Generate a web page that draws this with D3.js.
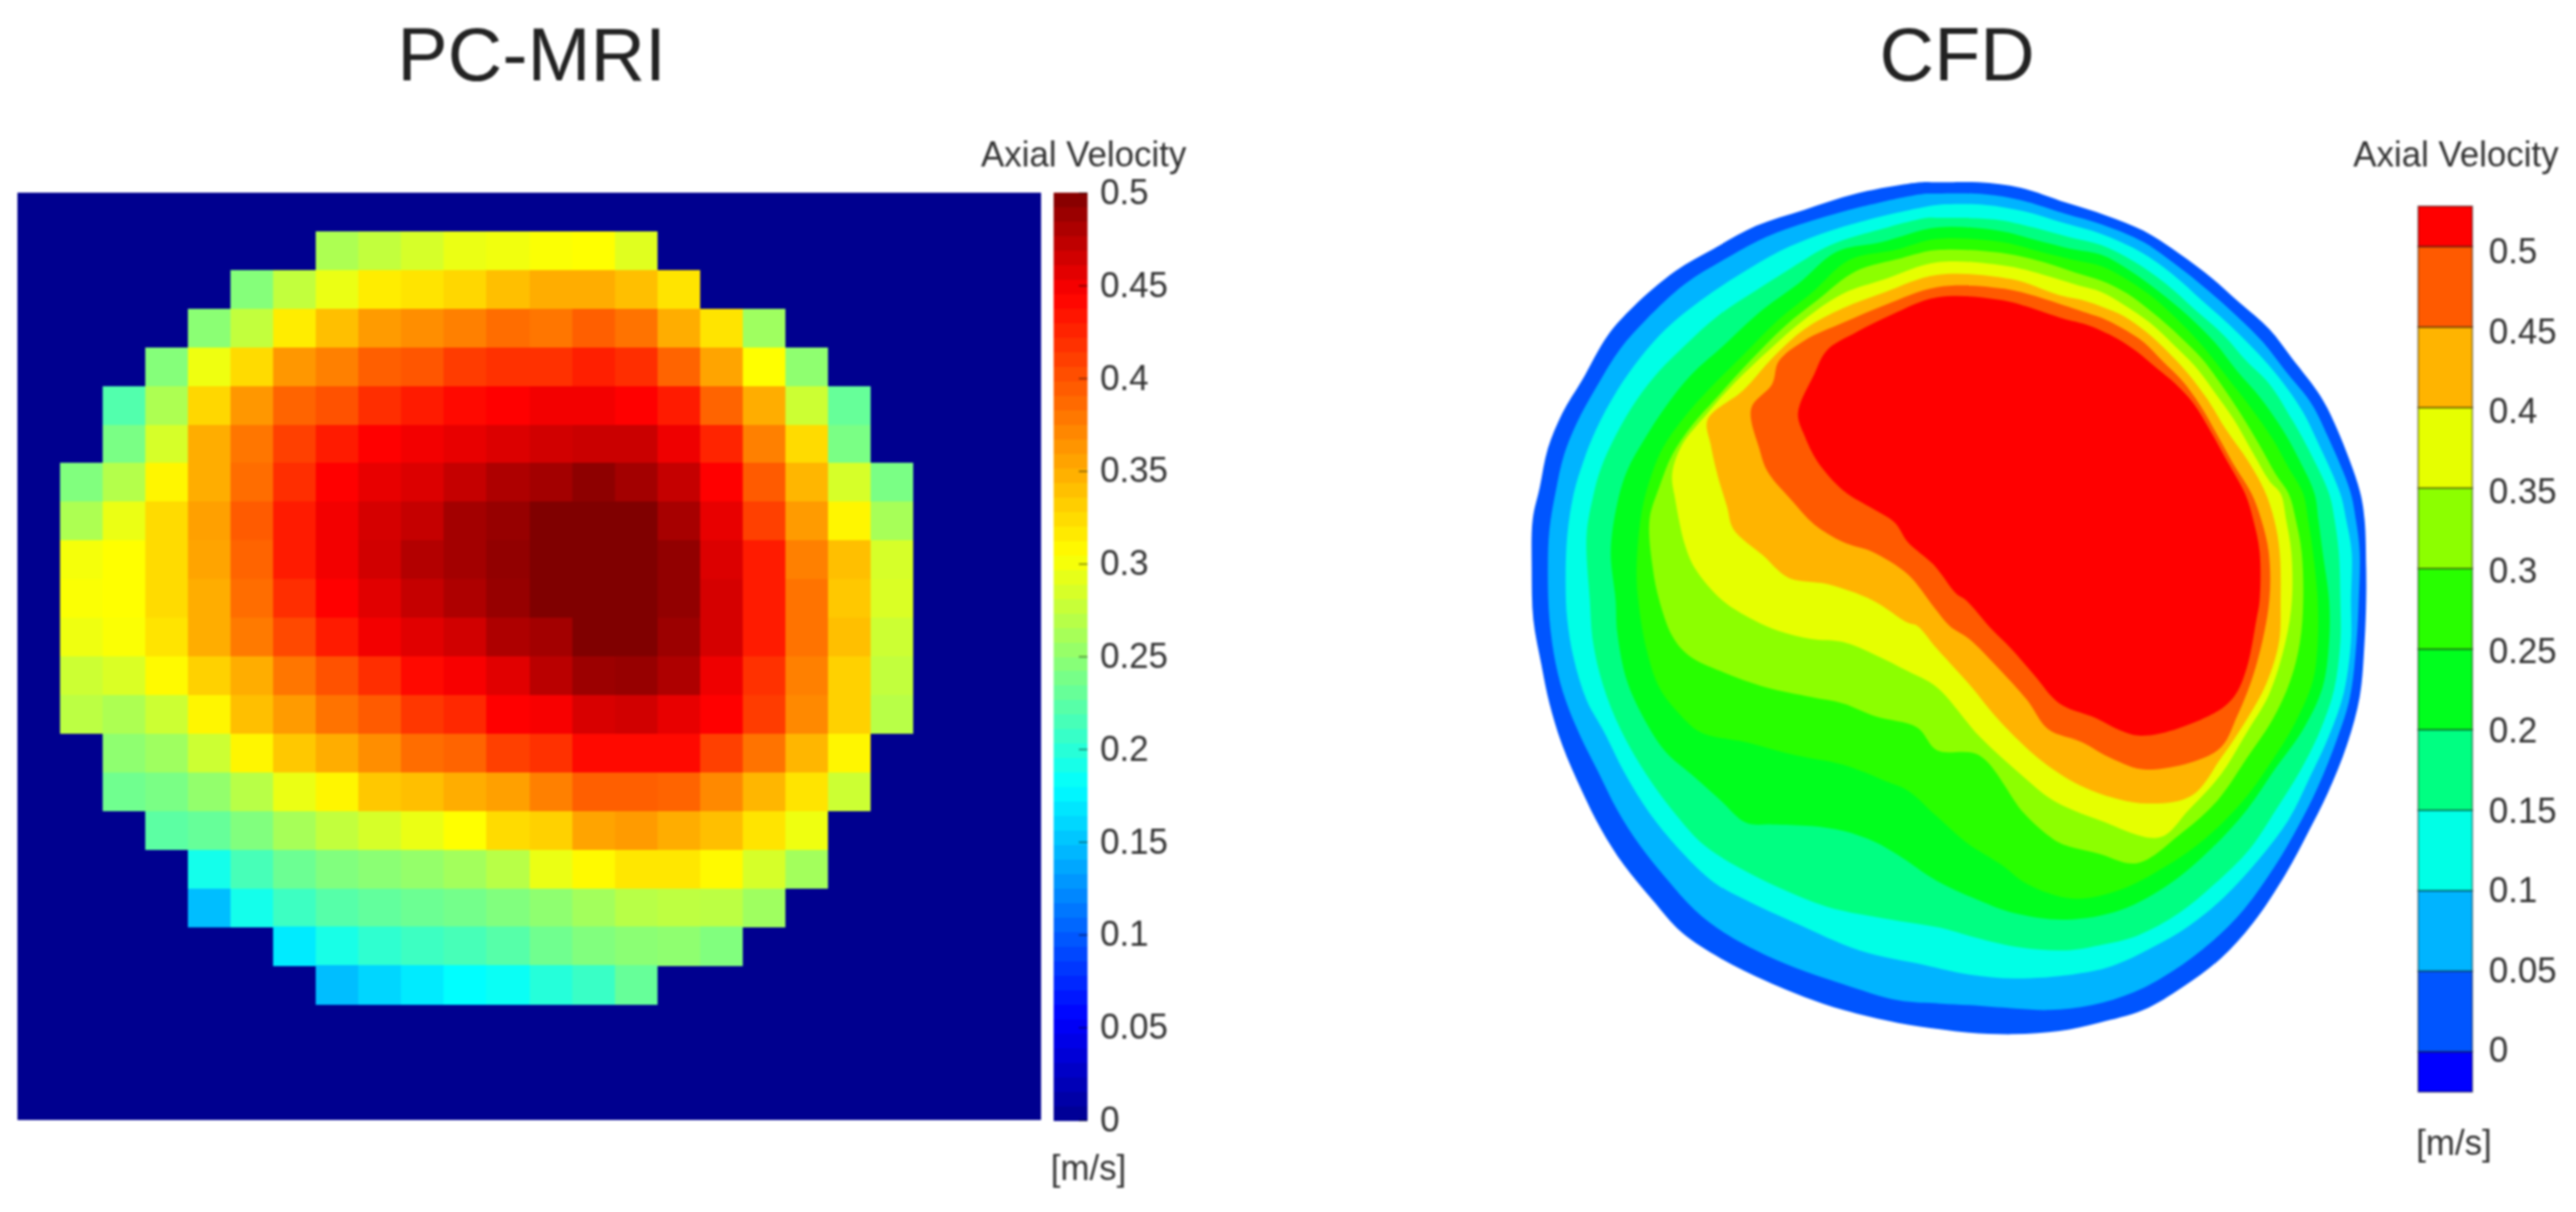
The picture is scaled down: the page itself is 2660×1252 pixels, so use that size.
<!DOCTYPE html>
<html>
<head>
<meta charset="utf-8">
<script src="https://d3js.org/d3.v7.min.js"></script>
<style>
  html, body { margin: 0; padding: 0; background: #fff; }
  svg { display: block; filter: blur(0.8px); }
  text { font-family: "Liberation Sans", Arial, sans-serif; fill: #333; }
  .domain { display: none; }
</style>
</head>
<body>
<div id="chart"></div>
<script>
var titles = ['PC-MRI', 'CFD'];
var legendTitle = 'Axial Velocity';
var unitLabel = '[m/s]';
var velocityTicks = [0, 0.05, 0.1, 0.15, 0.2, 0.25, 0.3, 0.35, 0.4, 0.45, 0.5];

// PC-MRI: axial velocity per pixel, one row per scan line inside the vessel
var mriGridSize = 24;
var mriFirstColumn = [7, 5, 4, 3, 2, 2, 1, 1, 1, 1, 1, 1, 1, 2, 2, 3, 4, 4, 6, 7];
var mriValues = [
  [.265, .275, .285, .295, .298, .303, .305, .29],
  [.245, .275, .295, .315, .32, .327, .34, .35, .35, .34, .32],
  [.248, .275, .315, .34, .36, .367, .375, .385, .38, .393, .382, .35, .32, .258],
  [.245, .297, .325, .362, .375, .393, .398, .412, .418, .418, .428, .42, .39, .355, .305, .25],
  [.22, .265, .327, .362, .39, .40, .42, .43, .44, .445, .45, .45, .445, .43, .39, .35, .28, .23],
  [.24, .285, .35, .38, .41, .43, .445, .45, .455, .46, .465, .468, .468, .452, .425, .375, .325, .24],
  [.243, .268, .31, .35, .385, .42, .445, .455, .46, .47, .48, .485, .494, .485, .47, .445, .395, .345, .285, .24],
  [.265, .295, .325, .357, .395, .43, .45, .463, .47, .485, .49, .5, .5, .5, .483, .455, .41, .36, .31, .262],
  [.30, .305, .325, .355, .39, .43, .45, .465, .478, .485, .492, .5, .5, .5, .492, .46, .43, .375, .34, .285],
  [.303, .305, .325, .35, .385, .42, .445, .458, .47, .48, .49, .5, .5, .5, .492, .463, .43, .382, .335, .287],
  [.297, .303, .32, .35, .378, .405, .43, .45, .458, .465, .48, .485, .5, .5, .488, .463, .43, .382, .34, .28],
  [.28, .287, .308, .33, .35, .38, .40, .42, .44, .448, .458, .475, .488, .49, .48, .452, .418, .375, .33, .275],
  [.272, .265, .28, .31, .34, .36, .382, .395, .415, .423, .445, .448, .462, .465, .455, .445, .412, .37, .33, .27],
  [.25, .258, .28, .31, .335, .35, .367, .385, .39, .41, .418, .44, .44, .44, .41, .382, .345, .31],
  [.235, .24, .252, .27, .295, .31, .335, .34, .35, .357, .375, .393, .393, .39, .37, .345, .32, .28],
  [.225, .23, .243, .262, .275, .285, .295, .305, .325, .33, .355, .36, .35, .34, .32, .297],
  [.19, .215, .233, .243, .248, .253, .26, .27, .295, .308, .318, .318, .308, .285, .26],
  [.148, .19, .21, .222, .228, .233, .237, .243, .25, .26, .27, .273, .272, .258],
  [.17, .192, .203, .21, .215, .222, .235, .243, .248, .25, .243],
  [.148, .16, .17, .18, .185, .198, .208, .23]
];
var jetStops = [0, 0.055, 0.18, 0.305, 0.445, 0.5];
var jetColors = ['#00008f', '#0000ff', '#00ffff', '#ffff00', '#ff0000', '#800000'];
var jetLevels = 64;

// CFD: iso-velocity outlines across the section, outermost first
var isoWall = [[1290,55],[1420,55],[1550,72],[1690,118],[1815,158],[1930,205],[2040,275],[2140,350],[2230,430],[2320,510],[2390,600],[2480,720],[2530,820],[2600,1010],[2615,1100],[2620,1250],[2620,1350],[2615,1480],[2600,1650],[2560,1800],[2500,1950],[2440,2070],[2370,2200],[2270,2350],[2170,2460],[2050,2550],[1930,2620],[1790,2660],[1670,2685],[1530,2695],[1390,2690],[1300,2680],[1170,2660],[1000,2620],[880,2580],[760,2530],[620,2460],[500,2380],[410,2280],[320,2170],[250,2060],[190,1940],[130,1800],[90,1670],[65,1550],[40,1410],[35,1250],[38,1100],[60,1000],[85,880],[130,770],[190,670],[270,530],[350,440],[480,330],[600,260],[730,190],[880,140],[1040,90],[1240,55]];
var iso005 = [[1290,90],[1440,92],[1550,110],[1690,153],[1800,185],[1930,240],[2030,310],[2130,390],[2220,470],[2300,550],[2370,640],[2450,740],[2500,840],[2570,1010],[2588,1100],[2600,1200],[2597,1350],[2590,1480],[2570,1650],[2530,1780],[2470,1930],[2410,2050],[2340,2170],[2240,2310],[2140,2410],[2020,2500],[1900,2565],[1770,2605],[1640,2620],[1530,2615],[1390,2605],[1300,2600],[1170,2590],[1000,2540],[880,2500],[760,2450],[630,2380],[540,2310],[450,2210],[370,2110],[300,2000],[240,1880],[185,1770],[140,1660],[110,1550],[90,1410],[85,1250],[90,1130],[110,1010],[135,900],[175,800],[235,690],[310,570],[390,480],[510,370],[630,295],[760,225],[900,175],[1060,130],[1240,92]];
var iso010 = [[1290,125],[1440,125],[1560,145],[1680,180],[1800,215],[1920,270],[2020,340],[2110,420],[2200,500],[2280,580],[2350,660],[2420,760],[2470,860],[2540,1020],[2558,1100],[2575,1200],[2573,1350],[2573,1480],[2550,1640],[2505,1770],[2445,1900],[2380,2030],[2290,2150],[2180,2270],[2070,2360],[1960,2425],[1830,2485],[1710,2510],[1530,2522],[1390,2510],[1250,2480],[1050,2435],[850,2350],[700,2280],[600,2225],[490,2120],[400,2010],[320,1880],[260,1760],[205,1660],[165,1530],[145,1410],[140,1300],[145,1150],[165,1020],[195,920],[235,820],[300,700],[370,600],[450,510],[560,420],[680,340],[800,270],[930,215],[1080,170],[1260,130]];
var iso015 = [[1290,165],[1470,170],[1590,195],[1700,225],[1800,250],[1900,300],[2000,370],[2090,450],[2180,530],[2250,610],[2320,680],[2390,790],[2440,880],[2505,1020],[2522,1100],[2535,1200],[2540,1350],[2540,1480],[2520,1630],[2475,1760],[2415,1880],[2340,2000],[2260,2120],[2150,2230],[2040,2320],[1910,2390],[1790,2420],[1690,2435],[1540,2425],[1390,2390],[1300,2365],[1150,2340],[950,2300],[800,2240],[680,2180],[570,2110],[470,2000],[390,1890],[310,1750],[255,1610],[225,1480],[215,1350],[205,1150],[225,1030],[250,940],[295,840],[360,730],[430,640],[510,560],[610,470],[730,390],[840,320],[960,250],[1100,205],[1260,165]];
var iso020 = [[1290,195],[1480,205],[1600,235],[1700,260],[1800,280],[1890,330],[1980,395],[2070,470],[2150,550],[2220,640],[2290,720],[2360,820],[2410,910],[2460,1020],[2472,1100],[2485,1200],[2505,1350],[2505,1480],[2485,1620],[2425,1750],[2340,1870],[2250,2000],[2140,2120],[2010,2230],[1860,2310],[1690,2340],[1530,2320],[1420,2280],[1290,2220],[1170,2140],[1100,2100],[1000,2065],[900,2050],[780,2045],[700,2040],[620,1970],[530,1890],[450,1820],[390,1730],[330,1600],[300,1450],[295,1350],[280,1200],[300,1050],[330,950],[385,850],[450,750],[530,650],[630,560],[750,450],[860,370],[980,270],[1120,240]];
var iso025 = [[1290,230],[1490,240],[1610,270],[1710,295],[1800,315],[1885,360],[1970,420],[2050,495],[2120,570],[2190,660],[2260,750],[2330,850],[2380,940],[2425,1020],[2440,1100],[2455,1200],[2470,1350],[2470,1480],[2455,1600],[2400,1730],[2320,1860],[2240,1970],[2120,2090],[1990,2180],[1850,2250],[1710,2275],[1570,2230],[1490,2170],[1380,2100],[1290,2020],[1200,1940],[1130,1910],[1000,1860],[850,1830],[700,1790],[560,1760],[490,1700],[430,1620],[390,1500],[365,1350],[360,1250],[375,1080],[400,980],[440,880],[510,780],[590,690],[690,590],[800,480],[900,400],[1020,295],[1160,265]];
var iso030 = [[1290,265],[1500,275],[1630,305],[1720,335],[1800,360],[1880,400],[1960,460],[2040,530],[2110,600],[2170,680],[2230,770],[2290,870],[2340,960],[2380,1020],[2402,1100],[2420,1200],[2425,1350],[2415,1480],[2385,1600],[2330,1720],[2250,1840],[2160,1970],[2050,2070],[1910,2165],[1790,2135],[1690,2110],[1650,2090],[1560,2010],[1420,1830],[1290,1815],[1230,1745],[1100,1710],[1000,1670],[900,1650],[760,1620],[620,1570],[520,1520],[470,1460],[430,1350],[410,1250],[400,1100],[430,1000],[470,900],[530,810],[610,720],[710,610],[820,500],[920,420],[1040,330],[1180,290]];
var iso035 = [[1290,303],[1510,315],[1650,350],[1730,375],[1800,395],[1870,435],[1950,490],[2020,555],[2090,625],[2150,705],[2210,790],[2270,895],[2320,980],[2355,1020],[2372,1100],[2388,1200],[2390,1350],[2370,1480],[2320,1640],[2250,1760],[2170,1890],[2070,2000],[1980,2085],[1790,2030],[1650,1970],[1550,1890],[1420,1770],[1290,1620],[1200,1570],[1100,1520],[1000,1480],[900,1470],[800,1445],[720,1410],[625,1350],[540,1250],[510,1180],[480,1040],[470,960],[500,870],[580,770],[660,680],[770,575],[880,480],[1000,400],[1130,355]];
var iso040 = [[1290,342],[1520,355],[1670,405],[1740,420],[1800,440],[1870,470],[1940,520],[2010,585],[2070,650],[2130,730],[2185,820],[2255,920],[2305,1010],[2335,1100],[2352,1200],[2355,1350],[2350,1480],[2310,1610],[2250,1720],[2170,1840],[2080,1955],[1940,1980],[1770,1940],[1630,1860],[1490,1730],[1390,1610],[1290,1500],[1230,1430],[1200,1420],[1090,1350],[950,1300],[830,1280],[750,1210],[660,1130],[640,1060],[610,960],[590,870],[580,790],[690,700],[780,600],[880,510],[1000,445],[1130,395]];
var iso045 = [[1290,380],[1500,385],[1680,435],[1740,455],[1800,475],[1860,505],[1930,550],[1990,610],[2050,670],[2105,745],[2160,840],[2210,930],[2265,1020],[2295,1100],[2318,1200],[2320,1350],[2280,1550],[2220,1710],[2160,1815],[1940,1875],[1830,1840],[1740,1790],[1635,1750],[1570,1660],[1480,1560],[1390,1470],[1330,1430],[1280,1370],[1200,1270],[1090,1200],[1000,1170],[910,1115],[840,1040],[765,950],[740,880],[715,755],[780,680],[800,610],[880,545],[1000,490],[1130,435]];
var iso050 = [[1290,412],[1490,420],[1690,480],[1750,495],[1800,515],[1850,540],[1910,580],[1970,630],[2030,680],[2085,740],[2140,830],[2190,920],[2245,1020],[2270,1100],[2290,1200],[2290,1350],[2280,1410],[2250,1560],[2210,1650],[2140,1705],[1920,1770],[1770,1710],[1670,1670],[1590,1580],[1520,1500],[1460,1440],[1380,1350],[1350,1330],[1280,1240],[1200,1170],[1160,1110],[1080,1060],[1000,1010],[920,920],[880,840],[860,770],[910,650],[950,575],[1040,520],[1150,465]];
var cfdIsolines = [isoWall, iso005, iso010, iso015, iso020, iso025, iso030, iso035, iso040, iso045, iso050];
var cfdFills = ['#0055ff', '#00b4ff', '#00ffe6', '#00ff82', '#00ff1e', '#28ff00', '#8cff00', '#e6ff00', '#ffb400', '#ff5a00', '#ff0000'];
var cfdBelowZeroFill = '#0000ff';
var cfdBarEdges = [-0.025, 0, 0.05, 0.1, 0.15, 0.2, 0.25, 0.3, 0.35, 0.4, 0.45, 0.5, 0.525];

var svg = d3.select('#chart').append('svg')
    .attr('width', 2660)
    .attr('height', 1252);

// Titles
svg.selectAll('.title')
    .data(titles)
    .join('text')
    .attr('class', 'title')
    .attr('x', (d, i) => [549, 2021][i])
    .attr('y', 83)
    .attr('text-anchor', 'middle')
    .style('font-size', '78px')
    .style('fill', '#222')
    .text(d => d);

drawMriPanel();
drawCfdPanel();

function drawMriPanel() {
    var colorScale = d3.scaleLinear().domain(jetStops).range(jetColors);
    var xScale = d3.scaleBand().domain(d3.range(mriGridSize)).range([18, 1075]);
    var yScale = d3.scaleBand().domain(d3.range(mriGridSize)).range([199, 1157]);

    var cells = [];
    mriValues.forEach((row, r) => {
        row.forEach((v, i) => cells.push({row: r + 1, col: mriFirstColumn[r] + i, value: v}));
    });

    var g = svg.append('g').attr('shape-rendering', 'crispEdges');
    g.append('rect')
        .attr('x', xScale.range()[0])
        .attr('y', yScale.range()[0])
        .attr('width', xScale.range()[1] - xScale.range()[0])
        .attr('height', yScale.range()[1] - yScale.range()[0])
        .attr('fill', colorScale(0));
    g.selectAll('.cell')
        .data(cells)
        .join('rect')
        .attr('class', 'cell')
        .attr('x', d => xScale(d.col))
        .attr('y', d => yScale(d.row))
        .attr('width', xScale.bandwidth() + 0.5)
        .attr('height', yScale.bandwidth() + 0.5)
        .attr('fill', d => colorScale(d.value));

    // Colour bar
    var barScale = d3.scaleLinear().domain([0, 0.5]).range([1157, 199]);
    var steps = d3.range(jetLevels).map(i => i / jetLevels * 0.5);
    var stepHeight = barScale(0) - barScale(0.5 / jetLevels);
    g.selectAll('.step')
        .data(steps)
        .join('rect')
        .attr('class', 'step')
        .attr('x', 1088)
        .attr('width', 35)
        .attr('y', d => barScale(d) - stepHeight)
        .attr('height', stepHeight + 0.5)
        .attr('fill', d => colorScale(d + 0.25 / jetLevels));

    var axis = d3.axisRight(barScale)
        .tickValues(velocityTicks)
        .tickFormat(d => d)
        .tickSize(-9)
        .tickPadding(13);
    var axisG = svg.append('g')
        .attr('transform', 'translate(1123,0)')
        .call(axis);
    axisG.selectAll('line').attr('stroke', '#000').attr('stroke-opacity', 0.45).attr('stroke-width', 1.5);
    axisG.selectAll('text').attr('font-family', null).style('font-size', '36px');

    svg.append('text').attr('x', 1225).attr('y', 172).attr('text-anchor', 'end').style('font-size', '36px').text(legendTitle);
    svg.append('text').attr('x', 1085).attr('y', 1219).style('font-size', '36px').text(unitLabel);
}

function drawCfdPanel() {
    var xScale = d3.scaleLinear().domain([0, 2640]).range([1570, 2450]);
    var yScale = d3.scaleLinear().domain([0, 2640]).range([170, 1050]);
    var outline = d3.line()
        .x(d => xScale(d[0]))
        .y(d => yScale(d[1]))
        .curve(d3.curveCatmullRomClosed.alpha(0.5));

    // Later bands paint over earlier ones, so each leaves a ring
    svg.append('g').selectAll('path')
        .data(cfdIsolines)
        .join('path')
        .attr('d', outline)
        .attr('fill', (d, i) => cfdFills[i]);

    // Colour bar
    var barScale = d3.scaleLinear().domain([-0.025, 0.525]).range([1128, 213]);
    var barFills = [cfdBelowZeroFill].concat(cfdFills);
    var bands = d3.pairs(cfdBarEdges).map((p, i) => ({low: p[0], high: p[1], fill: barFills[i]}));
    var barG = svg.append('g').attr('transform', 'translate(2497,0)');
    barG.selectAll('rect')
        .data(bands)
        .join('rect')
        .attr('x', 0)
        .attr('width', 56)
        .attr('y', d => barScale(d.high))
        .attr('height', d => barScale(d.low) - barScale(d.high))
        .attr('fill', d => d.fill)
        .attr('stroke', '#000')
        .attr('stroke-opacity', 0.45)
        .attr('stroke-width', 1.5);

    // The printed labels sit on a slightly tighter spacing than the band edges
    var labelScale = d3.scaleLinear().domain([0, 0.5]).range([1083, 258]);
    var axis = d3.axisRight(labelScale)
        .tickValues(velocityTicks)
        .tickFormat(d => d)
        .tickSize(0)
        .tickPadding(17);
    var axisG = svg.append('g')
        .attr('transform', 'translate(2553,0)')
        .call(axis);
    axisG.selectAll('text').attr('font-family', null).style('font-size', '36px').attr('dy', '0.38em');

    svg.append('text').attr('x', 2430).attr('y', 172).style('font-size', '36px').text(legendTitle);
    svg.append('text').attr('x', 2495).attr('y', 1193).style('font-size', '36px').text(unitLabel);
}
</script>
</body>
</html>
